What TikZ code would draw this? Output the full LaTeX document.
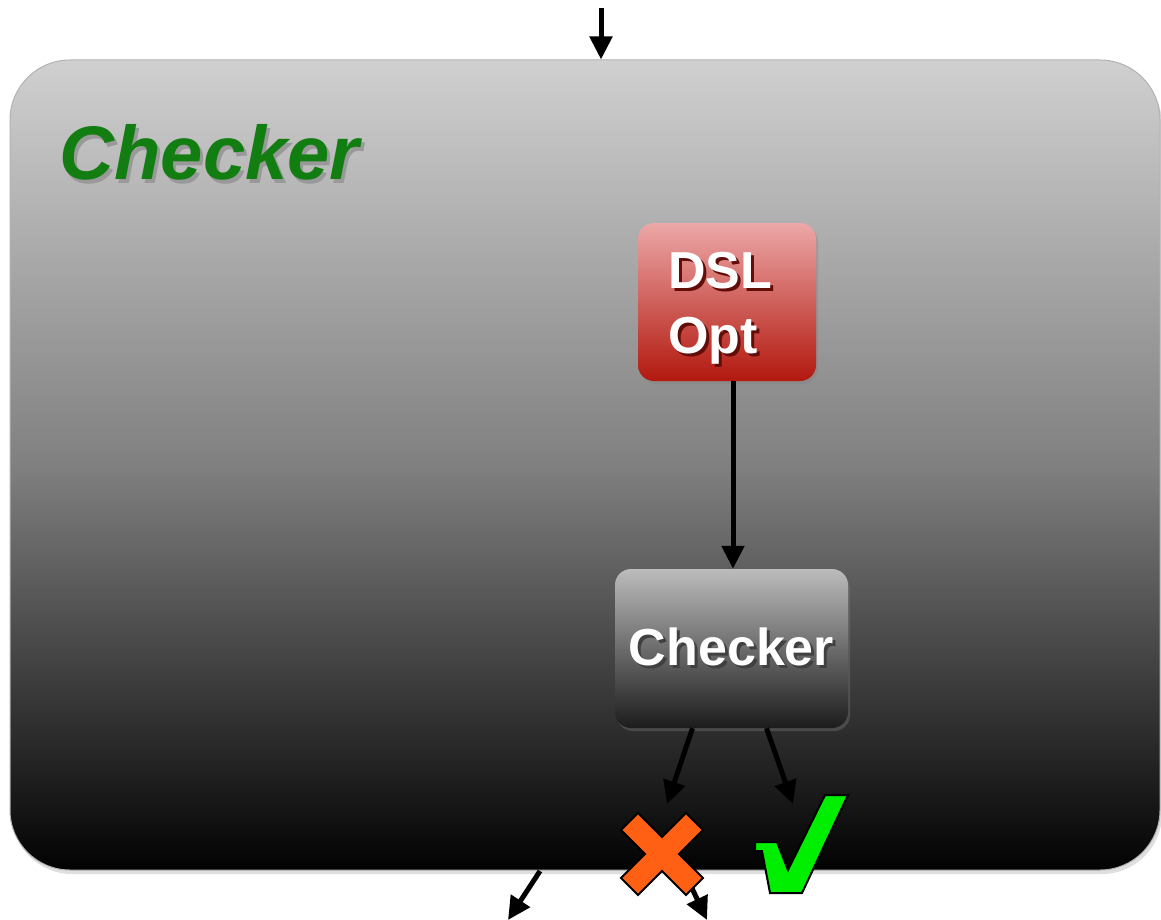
\documentclass[tikz,border=0pt]{standalone}
\usepackage{fontspec}
\setmainfont{Liberation Sans}
\usetikzlibrary{arrows.meta,shadows,calc}
\definecolor{titlegreen}{RGB}{18,126,18}
\definecolor{paneltop}{RGB}{208,208,208}
\definecolor{panelmid}{RGB}{128,128,128}
\definecolor{panelbot}{RGB}{2,2,2}
\definecolor{redtop}{RGB}{236,168,168}
\definecolor{redbot}{RGB}{178,24,14}
\definecolor{graytop}{RGB}{188,188,188}
\definecolor{graybot}{RGB}{28,28,28}
\definecolor{crossfill}{RGB}{255,96,20}
\definecolor{tickfill}{RGB}{0,238,0}
% text with a soft offset shadow: #1 shadow colour, #2 text
\newcommand\shadowed[2]{\leavevmode\rlap{\kern3pt\raisebox{-3pt}{\textcolor{#1}{#2}}}#2}
\tikzset{
  panel/.style={draw=gray!60, line width=1pt, rounded corners=60pt,
    minimum width=1150pt, minimum height=810pt, inner sep=0pt,
    top color=paneltop, bottom color=panelbot, middle color=panelmid,
    drop shadow={opacity=0.25, shadow xshift=2pt, shadow yshift=-4pt}},
  stagebox/.style={rounded corners=16pt, inner sep=0pt, text=white,
    font=\bfseries\fontsize{52}{65}\selectfont,
    drop shadow={opacity=0.35, shadow xshift=2pt, shadow yshift=-3pt}},
  conn/.style={line width=5pt, -{Triangle[length=23pt,width=22pt]}},
  verdict/.style={draw=black, line width=2pt, line join=miter}
}
\begin{document}
\begin{tikzpicture}[x=1pt,y=-1pt]
\useasboundingbox (0,0) rectangle (1161,920);

% outer stage
\node[panel] (outer) at (585,465) {};
\node[anchor=base west, text=titlegreen, font=\bfseries\itshape\fontsize{76}{90}\selectfont]
  (title) at (56,180) {\shadowed{black!40}{Checker}};

% inner stages
\node[stagebox, top color=redtop, bottom color=redbot,
  minimum width=178pt, minimum height=158pt, text width=118pt, align=left]
  (dsl) at (727,302)
  {\rule{0pt}{52pt}\shadowed{redbot!55!black}{DSL}\\\shadowed{redbot!55!black}{Opt}};
\node[stagebox, top color=graytop, bottom color=graybot,
  minimum width=233pt, minimum height=159pt] (chk) at (731.5,648.5)
  {\shadowed{black!75}{Checker}};

% verdict points and free ends
\coordinate (in) at (601,8);
\coordinate (xin) at (667,804);
\coordinate (tin) at (793,804);
\coordinate (outL) at (508,920);
\coordinate (outR) at (707,920);

% connectors
\draw[conn] (in) -- (outer.north -| in);
\draw[conn] (dsl.south -| 733,0) -- (chk.north -| 733,0);
\draw[conn] ($(chk.south)+(-39,0)$) -- (xin);
\draw[conn] ($(chk.south)+(35,0)$) -- (tin);
\draw[conn] (540,871) -- (outL);
\draw[conn] (690,884) -- (outR);

% rejected: orange cross
\coordinate (cross) at (662,854);
\begin{scope}[shift={(cross)}, rotate=45]
  \draw[verdict, fill=crossfill]
    (12,46) -- (12,12) -- (46,12) -- (46,-12) -- (12,-12) -- (12,-46)
    -- (-12,-46) -- (-12,-12) -- (-46,-12) -- (-46,12) -- (-12,12)
    -- (-12,46) -- cycle;
\end{scope}

% accepted: green tick
\coordinate (tick) at (800,845);
\draw[verdict, fill=tickfill]
  (755,842) -- (777,842) -- (788,870) -- (825,795) -- (848,795)
  -- (802,893) -- (770,893) -- (762,851) -- (755,851) -- cycle;
\end{tikzpicture}
\end{document}
